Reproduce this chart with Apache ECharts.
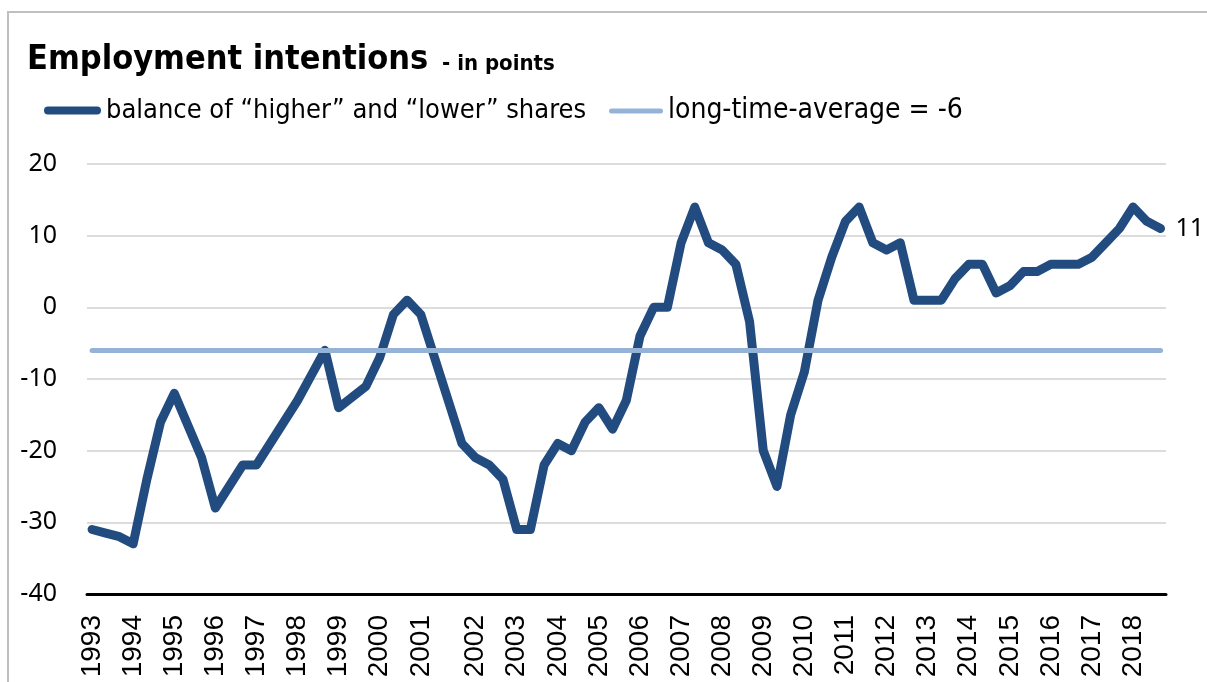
<!DOCTYPE html>
<html>
<head>
<meta charset="utf-8">
<title>Employment intentions</title>
<script src="https://cdn.jsdelivr.net/npm/echarts@6/dist/echarts.min.js"></script>
<style>
  html, body { margin: 0; padding: 0; background: #fff; }
  #chart { width: 1207px; height: 682px; }
</style>
</head>
<body>
<div id="chart"></div>
<script>
// survey balance, three surveys a year (four in 2001), 1993 to autumn 2018
const balance = [
  -31, -31.5, -32, -33, -24, -16, -12, -16.5, -21, -28,
  -25, -22, -22, -19, -16, -13, -9.5, -6, -14, -12.5,
  -11, -7, -1, 1, -1, -7, -13, -19, -21, -22,
  -24, -31, -31, -22, -19, -20, -16, -14, -17, -13,
  -4, 0, 0, 9, 14, 9, 8, 6, -2, -20,
  -25, -15, -9, 1, 7, 12, 14, 9, 8, 9,
  1, 1, 1, 4, 6, 6, 2, 3, 5, 5,
  6, 6, 6, 7, 9, 11, 14, 12, 11
]
const longTimeAverage = -6

// position (survey index) of the first survey of each year
const yearStart = [0, 3, 6, 9, 12, 15, 18, 21, 24, 28, 31, 34, 37, 40, 43, 46, 49, 52, 55, 58, 61, 64, 67, 70, 73, 76]
const years = ['1993', '1994', '1995', '1996', '1997', '1998', '1999', '2000', '2001', '2002', '2003', '2004', '2005',
  '2006', '2007', '2008', '2009', '2010', '2011', '2012', '2013', '2014', '2015', '2016', '2017', '2018']
const yTicks = [-40, -30, -20, -10, 0, 10, 20]

const seriesNames = ['balance of \u201chigher\u201d and \u201clower\u201d shares', 'long-time-average = -6']

const narrowFont = '"DejaVu Sans Condensed", "Liberation Sans Narrow", sans-serif'
const darkBlue = '#224c7f'
const lightBlue = '#95b3d7'
// capsule shapes so the legend keys look like thick lines with round ends
const capsuleThick = 'path://M4,0 L53,0 A4,4 0 0 1 53,8 L4,8 A4,4 0 0 1 4,0 Z'
const capsuleThin = 'path://M2.5,0 L51.5,0 A2.5,2.5 0 0 1 51.5,5 L2.5,5 A2.5,2.5 0 0 1 2.5,0 Z'

const chart = echarts.init(document.getElementById('chart'), null, { renderer: 'canvas' })

const lastIdx = balance.length - 1

const option = {
  animation: false,
  backgroundColor: '#fff',
  graphic: [
    {
      type: 'rect',
      shape: { x: 8, y: 12, width: 1220, height: 700 },
      style: { fill: 'none', stroke: '#bfbfbf', lineWidth: 2 },
      silent: true
    }
  ],
  title: {
    left: 22,
    top: 38,
    text: '{a|Employment intentions}{b|  - in points}',
    textStyle: {
      rich: {
        a: { fontFamily: narrowFont, fontWeight: 'bold', fontSize: 34, color: '#000' },
        b: { fontFamily: narrowFont, fontWeight: 'bold', fontSize: 22, color: '#000', padding: [8, 0, 0, 0] }
      }
    }
  },
  legend: [
    {
      left: 44,
      top: 97,
      padding: 0,
      itemWidth: 57,
      itemHeight: 8,
      data: [{ name: seriesNames[0], icon: capsuleThick }],
      textStyle: { fontFamily: narrowFont, fontSize: 27, color: '#000' }
    },
    {
      left: 609,
      top: 97,
      padding: 0,
      itemWidth: 54,
      itemHeight: 5,
      data: [{ name: seriesNames[1], icon: capsuleThin }],
      textStyle: { fontFamily: narrowFont, fontSize: 28, color: '#000' }
    }
  ],
  grid: {
    left: 87,
    right: 41,
    top: 164,
    bottom: 88
  },
  xAxis: {
    type: 'value',
    min: -0.37,
    max: lastIdx + 0.4,
    splitLine: { show: false },
    axisTick: { show: false },
    axisLine: {
      onZero: false,
      lineStyle: { color: '#000', width: 3 }
    },
    axisLabel: {
      customValues: yearStart,
      rotate: 90,
      margin: 21,
      fontFamily: '"Liberation Sans", Arial, sans-serif',
      fontSize: 28,
      color: '#000',
      formatter: function (val) {
        const k = yearStart.indexOf(Math.round(val))
        return k >= 0 ? years[k] : ''
      }
    }
  },
  yAxis: {
    type: 'value',
    min: yTicks[0],
    max: yTicks[yTicks.length - 1],
    interval: 10,
    axisLine: { show: false },
    axisTick: { show: false },
    splitLine: {
      lineStyle: { color: '#d0d0d0', width: 1.5 }
    },
    axisLabel: {
      margin: 30,
      fontFamily: '"Noto Sans", sans-serif',
      fontSize: 25,
      color: '#000'
    }
  },
  series: [
    {
      name: seriesNames[0],
      type: 'line',
      data: balance.map((v, i) => [i, v]),
      symbol: 'none',
      z: 3,
      lineStyle: {
        color: darkBlue,
        width: 9,
        cap: 'round',
        join: 'round'
      },
      itemStyle: { color: darkBlue },
      endLabel: {
        show: true,
        distance: 15,
        fontFamily: '"Noto Sans", sans-serif',
        fontSize: 25,
        color: '#000',
        formatter: function (p) { return p.value[1] }
      }
    },
    {
      name: seriesNames[1],
      type: 'line',
      data: [],
      symbol: 'none',
      z: 2,
      lineStyle: { color: lightBlue, width: 5, cap: 'round' },
      itemStyle: { color: lightBlue },
      markLine: {
        silent: true,
        symbol: 'none',
        label: { show: false },
        lineStyle: { color: lightBlue, width: 5, type: 'solid', cap: 'round' },
        data: [
          [{ coord: [0, longTimeAverage] }, { coord: [lastIdx, longTimeAverage] }]
        ]
      }
    }
  ]
}

chart.setOption(option)
</script>
</body>
</html>
